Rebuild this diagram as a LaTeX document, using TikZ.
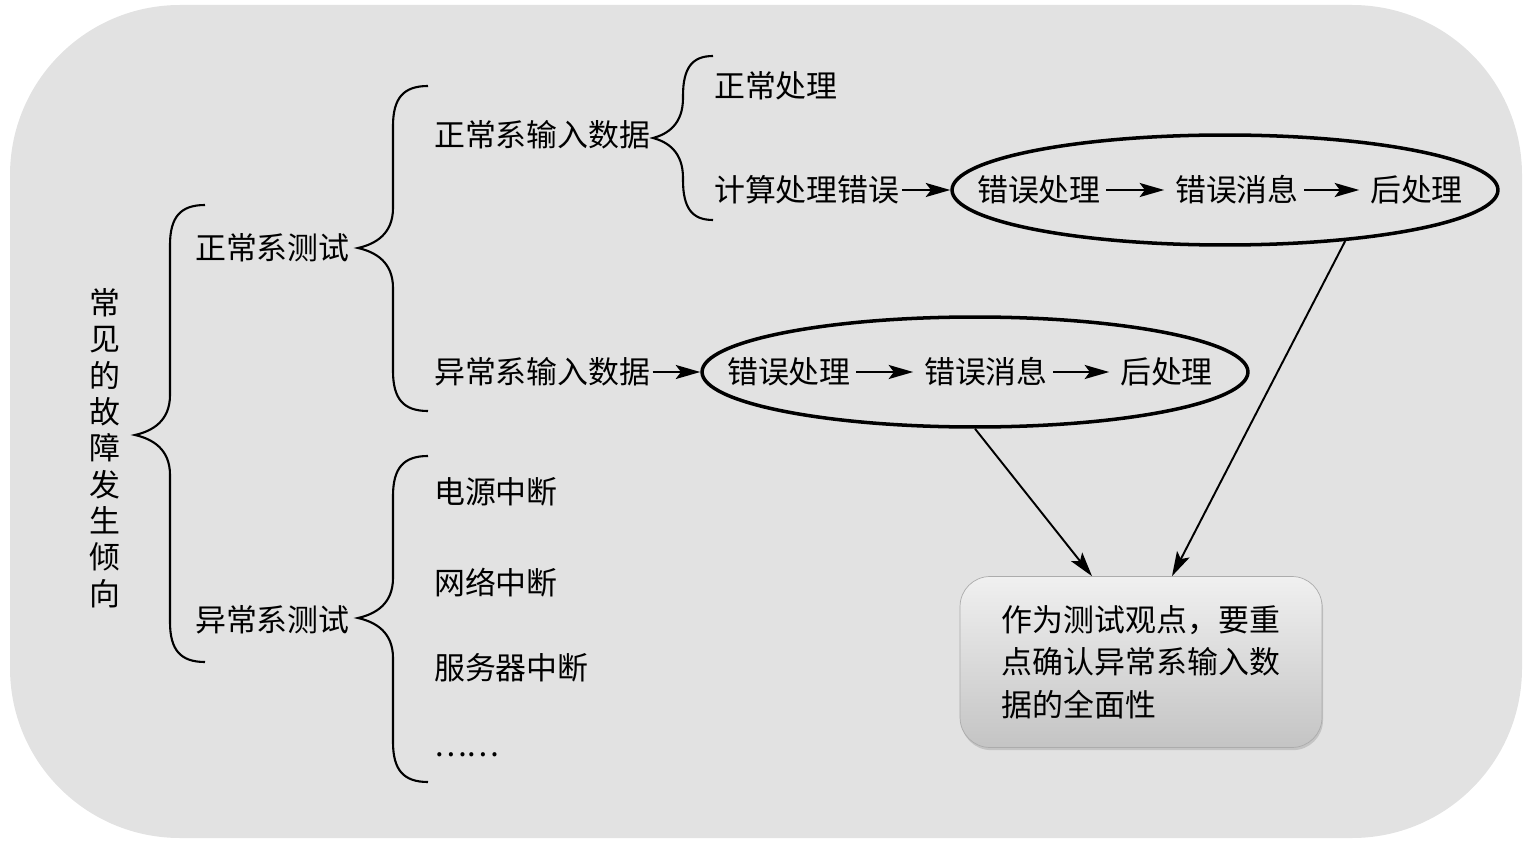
\documentclass[tikz,border=0pt]{standalone}
\usepackage{fontspec}
\setmainfont{Noto Sans CJK SC}
\usepackage{xcolor}
\usepackage{tikz}
\usetikzlibrary{arrows.meta, shapes.geometric, shadows}

\definecolor{bggray}{RGB}{226,226,226}
\definecolor{boxtop}{RGB}{240,240,240}
\definecolor{boxbottom}{RGB}{196,196,196}

% brace opening to the right: tip x, tip y, spine x, end x, top y, bottom y
\newcommand{\curlybrace}[6]{%
	\draw[brace line] (#4,#5) .. controls ({#3+0.3*(#4-#3)},#5) and (#3,{#5+12}) .. (#3,{#5+40})
	-- (#3,{#2-40}) .. controls (#3,{#2-14}) and ({#1+0.5*(#3-#1)},{#2-4}) .. (#1,#2)
	.. controls ({#1+0.5*(#3-#1)},{#2+4}) and (#3,{#2+14}) .. (#3,{#2+40})
	-- (#3,{#6-40}) .. controls (#3,{#6-12}) and ({#3+0.3*(#4-#3)},#6) .. (#4,#6);}

\begin{document}
\begin{tikzpicture}[
		x=0.02cm, y=-0.02cm,
		font=\fontsize{17.6}{21}\selectfont,
		txt/.style={anchor=west, inner sep=1pt},
		oval/.style={ellipse, draw, line width=2pt, minimum width=10.92cm, minimum height=2.2cm},
		arr/.style={-{Stealth[length=14pt, width=8pt, inset=3pt]}, line width=1.1pt},
		step arr/.style={arr, shorten <=2pt, shorten >=5pt},
		brace line/.style={line width=1.2pt},
		notebox/.style={draw=gray!65, rounded corners=0.6cm, top color=boxtop, bottom color=boxbottom,
			minimum width=7.24cm, minimum height=3.42cm, align=left,
			font=\fontsize{17.6}{24.2}\selectfont,
			drop shadow={shadow xshift=0.6pt, shadow yshift=-1.5pt, opacity=0.3}}
		]
		
		% Background
		\useasboundingbox (0,0) rectangle (1531,851);
		\fill[bggray, rounded corners=3.4cm] (10,5) rectangle (1522,838);
		
		% Root
		\node[align=center, font=\fontsize{17.6}{20.7}\selectfont] (root) at (105,448)
		{常\\见\\的\\故\\障\\发\\生\\倾\\向};
		\curlybrace{135}{435}{170}{205}{205}{662}
		
		% Second level
		\node[txt] (ntest) at (193,248) {正常系测试};
		\node[txt] (atest) at (193,620) {异常系测试};
		\curlybrace{358}{248}{393}{428}{86}{411}
		\curlybrace{358}{618}{393}{428}{456}{782}
		
		% Normal tests
		\node[txt] (nin) at (432,135) {正常系输入数据};
		\node[txt] (ain) at (432,372) {异常系输入数据};
		\curlybrace{653}{138}{683}{713}{56}{220}
		\node[txt] (nproc) at (712,86) {正常处理};
		\node[txt] (calc) at (712,190) {计算处理错误};
		
		% Abnormal tests
		\node[txt] (power) at (432,492) {电源中断};
		\node[txt] (net) at (432,583) {网络中断};
		\node[txt] (server) at (432,668) {服务器中断};
		\node[txt] (more) at (432,755) {……};
		
		% Error flow 1
		\node[oval] (e1) at (1225,190) {};
		\node[txt] (h1) at (975,190) {错误处理};
		\node[txt] (m1) at (1173,190) {错误消息};
		\node[txt] (p1) at (1368,190) {后处理};
		\draw[arr] (calc.east) -- (e1.west);
		\draw[step arr] (h1.east) -- (m1.west);
		\draw[step arr] (m1.east) -- (p1.west);
		
		% Error flow 2
		\node[oval] (e2) at (975,372) {};
		\node[txt] (h2) at (725,372) {错误处理};
		\node[txt] (m2) at (922,372) {错误消息};
		\node[txt] (p2) at (1118,372) {后处理};
		\draw[arr] (ain.east) -- (e2.west);
		\draw[step arr] (h2.east) -- (m2.west);
		\draw[step arr] (m2.east) -- (p2.west);
		
		% Note
		\node[notebox] (note) at (1141,662)
		{作为测试观点，要重\\点确认异常系输入数\\据的全面性};
		\draw[arr] (e2.south) -- ([xshift=-0.98cm]note.north);
		\draw[arr] (e1.-23.5) -- ([xshift=0.62cm]note.north);
		
	\end{tikzpicture}
\end{document}
